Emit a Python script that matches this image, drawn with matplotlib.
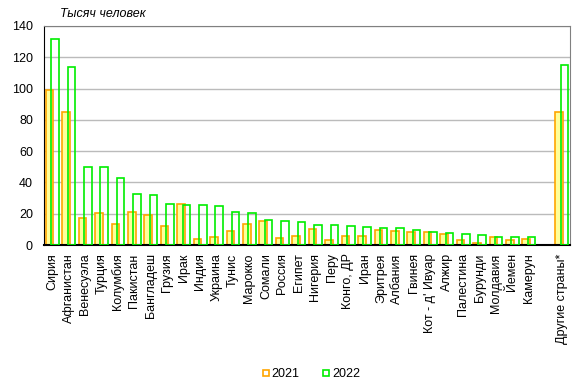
import matplotlib
matplotlib.use("Agg")
import matplotlib.pyplot as plt
from matplotlib.lines import Line2D
import numpy as np

plt.rcParams['font.family'] = ['Liberation Sans', 'DejaVu Sans']

categories = ["Сирия", "Афганистан", "Венесуэла", "Турция", "Колумбия", "Пакистан",
              "Бангладеш", "Грузия", "Ирак", "Индия", "Украина", "Тунис", "Марокко",
              "Сомали", "Россия", "Египет", "Нигерия", "Перу", "Конго, ДР", "Иран",
              "Эритрея", "Албания", "Гвинея", "Кот - д' Ивуар", "Алжир", "Палестина",
              "Бурунди", "Молдавия", "Йемен", "Камерун", "", "Другие страны*"]

values_2021 = [99, 85, 17, 20.2, 13.2, 20.9, 19, 11.9, 26, 3.6, 4.9, 8.7, 13.2,
               15.1, 4.3, 5.5, 10, 3.2, 5.5, 5.5, 9.4, 8.7, 8.1, 8.1, 6.8, 3.2,
               1.1, 4.9, 3.2, 3.6, np.nan, 84.8]
values_2022 = [132, 113.6, 49.6, 49.6, 42.6, 32.4, 31.7, 26, 25.4, 25.4, 24.7, 20.9,
               20.2, 15.8, 15.1, 14.5, 12.6, 12.6, 11.9, 11.3, 10.7, 10.7, 9.4, 8.1,
               7.5, 6.8, 6.2, 4.9, 4.9, 4.9, np.nan, 114.9]

fig = plt.figure(figsize=(5.85, 3.92), dpi=100)
ax = fig.add_axes([44/585, 1-245/392, (570-44)/585, (245-26)/392])

x = np.arange(len(categories))
w = 0.46
off = 0.16
ax.bar(x - off, values_2021, width=w, facecolor='#FFFF99', edgecolor='#FFA500',
       linewidth=1.2, zorder=2)
ax.bar(x + off, values_2022, width=w, facecolor='none', edgecolor='#00EE00',
       linewidth=1.2, zorder=3)

ax.set_xlim(-0.5, len(categories) - 0.5)
ax.set_ylim(0, 140)
ax.set_yticks(np.arange(0, 141, 20))
ax.yaxis.grid(True, color='#BBBBBB', linewidth=1)
ax.set_axisbelow(True)
ax.tick_params(axis='y', length=0, pad=8, labelsize=9)
ax.tick_params(axis='x', length=0, pad=6, labelsize=9)
ax.set_xticks(x)
ax.set_xticklabels(categories, rotation=90, va='top', ha='center')

for s in ['top', 'right']:
    ax.spines[s].set_color('#808080')
for s in ['left', 'bottom']:
    ax.spines[s].set_color('black')
ax.spines['bottom'].set_linewidth(1.5)

fig.text(60/585, 1-14/392, "Тысяч человек", style='italic', fontsize=9,
         va='center', ha='left')

handles = [Line2D([], [], marker='s', linestyle='none', markerfacecolor='none',
                  markeredgecolor='#FFA500', markersize=5, markeredgewidth=1.2),
           Line2D([], [], marker='s', linestyle='none', markerfacecolor='none',
                  markeredgecolor='#00EE00', markersize=5, markeredgewidth=1.2)]
fig.legend(handles, ["2021", "2022"], loc='center', bbox_to_anchor=(311/585, 1-374/392),
           ncol=2, frameon=False, fontsize=9, handlelength=0.6, handletextpad=0.2,
           columnspacing=1.8)

fig.savefig("out.png", dpi=100)
